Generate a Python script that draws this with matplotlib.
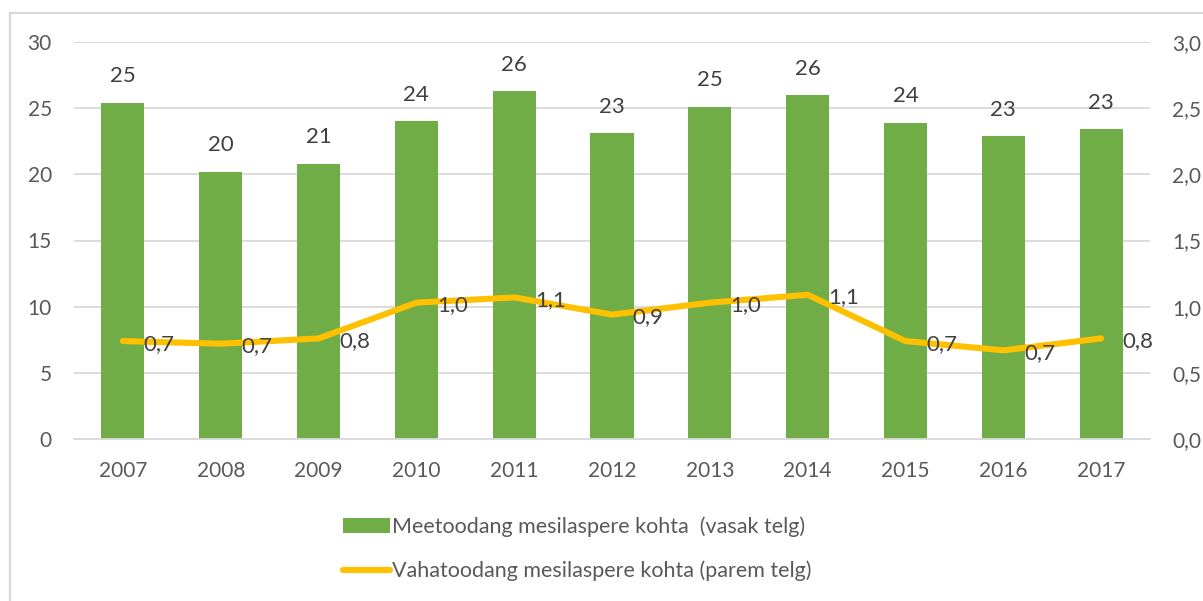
import matplotlib
matplotlib.use("Agg")
import matplotlib.pyplot as plt
from matplotlib.lines import Line2D
from matplotlib.patches import Patch, Rectangle

plt.rcParams["font.family"] = ["Lato", "DejaVu Sans"]

years = ["2007", "2008", "2009", "2010", "2011", "2012", "2013", "2014", "2015", "2016", "2017"]
honey = [25.4, 20.2, 20.8, 24.0, 26.3, 23.1, 25.1, 26.0, 23.9, 22.9, 23.4]
wax = [0.74, 0.72, 0.76, 1.03, 1.07, 0.94, 1.03, 1.09, 0.74, 0.67, 0.76]

honey_label = "Meetoodang mesilaspere kohta  (vasak telg)"
wax_label = "Vahatoodang mesilaspere kohta (parem telg)"

GREEN = "#70AD47"
YELLOW = "#FFC000"
GRID = "#D9D9D9"
TICK = "#595959"
LABEL = "#404040"


def comma(v, digits=1):
    return f"{v:.{digits}f}".replace(".", ",")


fig = plt.figure(figsize=(12.03, 6.01), dpi=100)
ax = fig.add_axes([74 / 1203, 1 - 439 / 601, (1150 - 74) / 1203, (439 - 42) / 601])
ax2 = ax.twinx()

x = list(range(len(years)))
ax.bar(x, honey, width=0.44, color=GREEN, zorder=2)
for xi, v in zip(x, honey):
    ax.annotate(f"{v:.0f}", (xi, v), xytext=(0, 19), textcoords="offset points",
                ha="center", va="center", fontsize=16, color=LABEL)

ax2.plot(x, wax, color=YELLOW, linewidth=4.4, solid_capstyle="round", zorder=3)
for xi, v in zip(x, wax):
    ax2.annotate(comma(v), (xi, v), xytext=(15, -2), textcoords="offset points",
                 ha="left", va="center", fontsize=16, color=LABEL)

ax.set_xlim(-0.5, len(years) - 0.5)
ax.set_ylim(0, 30)
ax.set_yticks(range(0, 31, 5))
ax2.set_ylim(0, 3)
ax2.set_yticks([i * 0.5 for i in range(7)])
ax2.set_yticklabels([comma(i * 0.5) for i in range(7)])
ax.set_xticks(x)
ax.set_xticklabels(years)

ax.grid(axis="y", color=GRID, linewidth=1.3, zorder=0)
ax.set_axisbelow(True)
for a in (ax, ax2):
    for s in a.spines.values():
        s.set_visible(False)
ax.spines["bottom"].set_visible(True)
ax.spines["bottom"].set_color(GRID)
ax.spines["bottom"].set_linewidth(1.3)

ax.tick_params(axis="y", length=0, pad=16, labelsize=15, labelcolor=TICK)
ax.tick_params(axis="x", length=0, pad=16, labelsize=15, labelcolor=TICK)
ax2.tick_params(axis="y", length=0, pad=16, labelsize=15, labelcolor=TICK)

handles = [Patch(facecolor=GREEN, edgecolor="none"),
           Line2D([0], [0], color=YELLOW, linewidth=4.4, solid_capstyle="round")]
fig.legend(handles, [honey_label, wax_label], loc="center left",
           bbox_to_anchor=(334 / 1203, 1 - 549 / 601), frameon=False, fontsize=15.5,
           labelcolor=TICK, handlelength=2.2, handletextpad=0.1, labelspacing=1.1,
           borderaxespad=0)

# chart border, cropped on the right and bottom
fig.add_artist(Rectangle((10 / 1203, -0.1), 1.2, 1 - 13 / 601 + 0.1,
                         transform=fig.transFigure, fill=False,
                         edgecolor=GRID, linewidth=1.6))

fig.savefig("out.png", dpi=100, facecolor="white")
